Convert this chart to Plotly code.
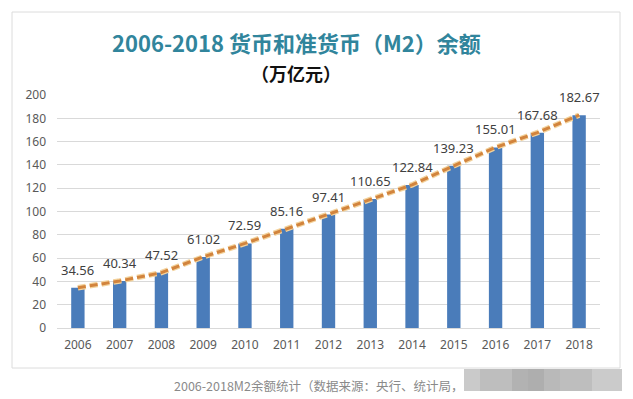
import plotly.graph_objects as go

years = ["2006", "2007", "2008", "2009", "2010", "2011", "2012",
         "2013", "2014", "2015", "2016", "2017", "2018"]
m2_values = [34.56, 40.34, 47.52, 61.02, 72.59, 85.16, 97.41,
             110.65, 122.84, 139.23, 155.01, 167.68, 182.67]
y_ticks = [0, 20, 40, 60, 80, 100, 120, 140, 160, 180, 200]

title_text = "<b>2006-2018 货币和准货币（M2）余额</b>"
subtitle_text = "<b>（万亿元）</b>"
caption_text = "2006-2018M2余额统计（数据来源：央行、统计局，"

OFF = 8  # page body margin
W, H = 633, 399
L, R, T, B = 57, 600, 95, 328  # plot area in screenshot pixels


def px_x(p):
    return (p - L) / (R - L)


def px_y(p):
    return (B - p) / (B - T)


fig = go.Figure()

fig.add_trace(go.Bar(
    x=years, y=m2_values, width=0.32,
    marker=dict(color="#4A7CBA", line=dict(width=0)),
    hoverinfo="x+y", showlegend=False,
))

fig.add_trace(go.Scatter(
    x=years, y=m2_values, mode="lines",
    line=dict(color="#F3D29C", width=5.5, dash="8px,4px"),
    showlegend=False, hoverinfo="skip",
))
fig.add_trace(go.Scatter(
    x=years, y=m2_values, mode="lines",
    line=dict(color="#D2843D", width=3, dash="8px,4px"),
    showlegend=False, hoverinfo="skip",
))

annotations = []
for i, v in enumerate(m2_values):
    annotations.append(dict(
        x=i, y=v, xref="x", yref="y", text=f"{v:.2f}",
        showarrow=False, yanchor="bottom", yshift=7,
        font=dict(family="Noto Sans, Open Sans, sans-serif", size=13, color="#404040"),
    ))

annotations.append(dict(
    x=px_x(296), y=px_y(42), xref="paper", yref="paper",
    text=title_text, showarrow=False, xanchor="center", yanchor="middle",
    font=dict(family="Noto Sans CJK SC, Noto Sans, sans-serif", size=22, color="#31859C"),
))
annotations.append(dict(
    x=px_x(296), y=px_y(73), xref="paper", yref="paper",
    text=subtitle_text, showarrow=False, xanchor="center", yanchor="middle",
    font=dict(family="Noto Sans CJK SC, sans-serif", size=18, color="#111111"),
))
annotations.append(dict(
    x=px_x(172), y=px_y(385), xref="paper", yref="paper",
    text=caption_text, showarrow=False, xanchor="left", yanchor="middle",
    font=dict(family="Noto Sans CJK SC, sans-serif", size=12.5, color="#8A8A8A"),
))

shapes = [dict(
    type="rect", xref="paper", yref="paper",
    x0=px_x(12), x1=px_x(620), y0=px_y(368), y1=px_y(12),
    line=dict(color="#DCDCDC", width=1), fillcolor="rgba(0,0,0,0)", layer="below",
)]
# blurred watermark tiles at bottom right
tile_edges = [464, 480, 512, 528, 544, 560, 592, 622]
tile_colors = ["#CACACA", "#BEBEBE", "#B2B2B2", "#AEAEAE", "#B9B9B9", "#BEBEBE", "#CBCBCB"]
for i, c in enumerate(tile_colors):
    shapes.append(dict(
        type="rect", xref="paper", yref="paper",
        x0=px_x(tile_edges[i]), x1=px_x(tile_edges[i + 1]),
        y0=px_y(391), y1=px_y(369),
        line=dict(width=0), fillcolor=c, layer="above",
    ))

fig.update_layout(
    width=W - OFF, height=H - OFF,
    margin=dict(l=L - OFF, r=W - R, t=T - OFF, b=H - B, pad=0, autoexpand=False),
    paper_bgcolor="white", plot_bgcolor="white",
    annotations=annotations, shapes=shapes,
    xaxis=dict(
        type="category", range=[-0.5, 12.5], autorange=False,
        showgrid=False, showline=True, linecolor="#D9D9D9",
        ticks="", tickfont=dict(family="Noto Sans, sans-serif", size=12, color="#595959"),
        ticklabelstandoff=6, automargin=False,
    ),
    yaxis=dict(
        range=[0, 200], autorange=False, tickvals=y_ticks, showgrid=True, gridcolor="#D9D9D9",
        zeroline=False, showline=False, ticks="",
        tickfont=dict(family="Noto Sans, sans-serif", size=12, color="#595959"),
        ticklabelstandoff=10, automargin=False,
    ),
)

fig.write_html("out.html")
